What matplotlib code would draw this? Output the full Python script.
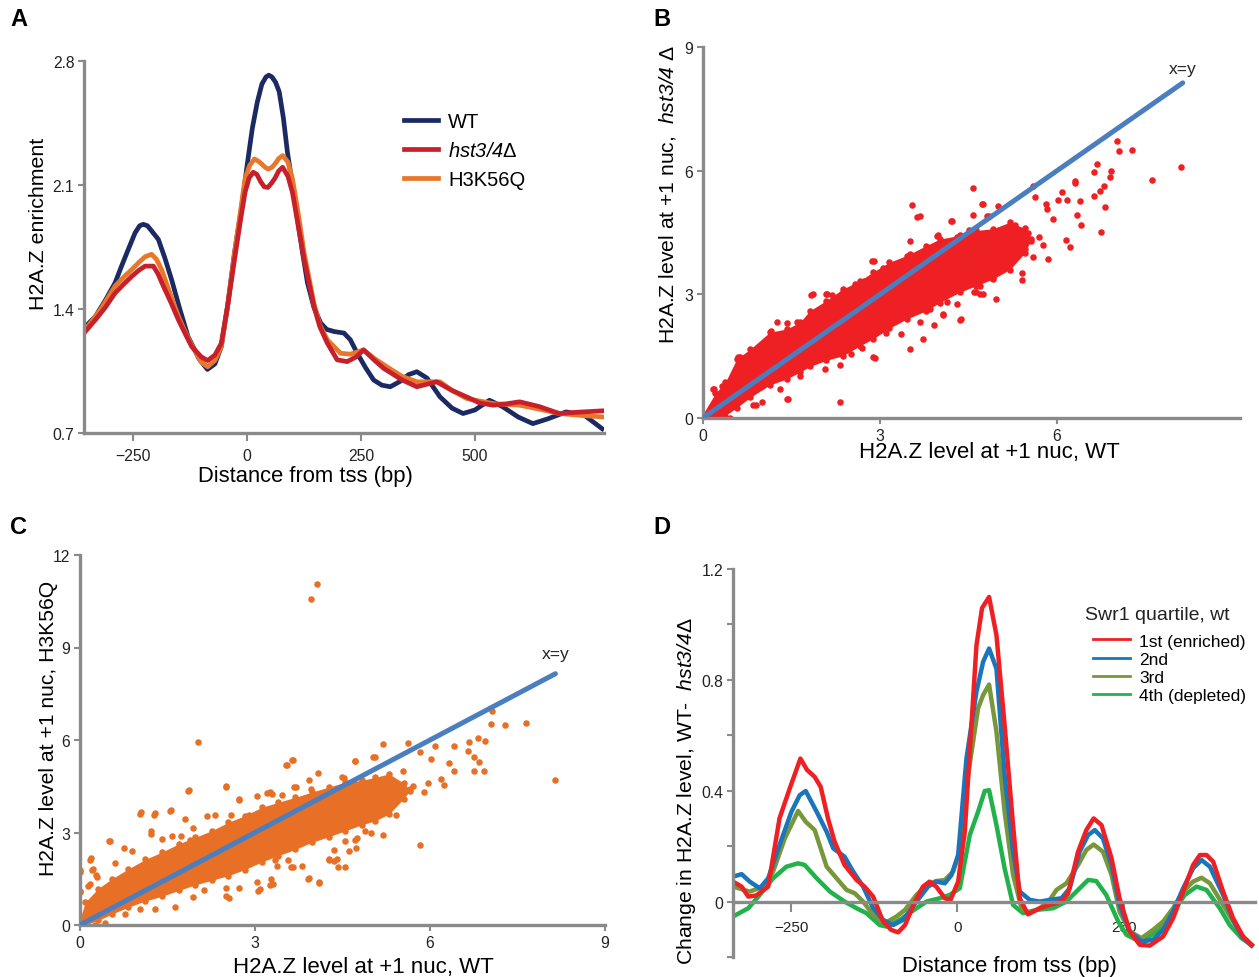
import matplotlib
matplotlib.use("Agg")
import matplotlib.pyplot as plt
from matplotlib.lines import Line2D

plt.rcParams['font.family'] = ['Liberation Sans', 'DejaVu Sans']
plt.rcParams['mathtext.fontset'] = 'custom'
plt.rcParams['mathtext.rm'] = 'Liberation Sans'
plt.rcParams['mathtext.it'] = 'Liberation Sans:italic'
plt.rcParams['mathtext.sf'] = 'Liberation Sans:italic'

# ---------------- Panel A data ----------------
a_wt_x = [-354, -332, -310, -289, -275, -260, -245, -235, -227, -218, -210, -194, -180, -165, -147, -129, -105, -86.5, -70, -56, -42, -27, -10, 1.5, 12, 23, 33, 42, 48, 55, 63, 71, 80, 89, 100, 111, 122, 133, 147, 162, 175, 191, 213, 227, 242, 260, 278, 296, 314.5, 335, 355, 372.7, 395, 423.5, 450, 474, 500, 532, 561, 595, 627, 660, 700, 740, 779]
a_wt_y = [1.30, 1.358, 1.45, 1.547, 1.64, 1.736, 1.83, 1.87, 1.878, 1.87, 1.845, 1.793, 1.69, 1.566, 1.40, 1.245, 1.12, 1.059, 1.09, 1.188, 1.42, 1.718, 2.0, 2.228, 2.42, 2.569, 2.67, 2.71, 2.72, 2.71, 2.68, 2.626, 2.48, 2.285, 2.10, 1.907, 1.72, 1.547, 1.41, 1.32, 1.285, 1.273, 1.264, 1.226, 1.15, 1.07, 0.999, 0.97, 0.961, 0.99, 1.03, 1.046, 1.01, 0.904, 0.84, 0.81, 0.83, 0.885, 0.848, 0.79, 0.753, 0.78, 0.819, 0.80, 0.724]
a_hst_x = [-354, -332, -310, -289, -270, -252, -236, -223, -205, -195, -183, -167, -150, -135, -121, -100, -86, -70, -56, -42, -27, -14, -4, 5, 13.9, 22, 30, 38, 46, 54, 62, 70, 78.5, 90, 100, 112, 125.5, 147, 160, 176.5, 198, 220, 240, 256, 280, 300, 340, 372.7, 416, 450, 481.7, 510, 539.7, 570, 598, 640, 685, 730, 779]
a_hst_y = [1.273, 1.339, 1.41, 1.49, 1.54, 1.585, 1.62, 1.642, 1.642, 1.60, 1.529, 1.44, 1.339, 1.26, 1.188, 1.13, 1.109, 1.14, 1.207, 1.42, 1.68, 1.90, 2.058, 2.14, 2.172, 2.16, 2.12, 2.09, 2.086, 2.11, 2.14, 2.18, 2.20, 2.15, 2.058, 1.88, 1.68, 1.415, 1.30, 1.207, 1.113, 1.103, 1.13, 1.169, 1.11, 1.065, 1.0, 0.961, 0.989, 0.94, 0.904, 0.87, 0.857, 0.865, 0.876, 0.85, 0.81, 0.818, 0.825]
a_h3k_x = [-354, -320, -289, -270, -252, -236, -223, -209, -198, -187, -170, -150, -135, -121, -100, -86, -70, -56, -42, -27, -14, -4, 6, 16.6, 25, 32, 40, 47, 55, 62, 70, 78.5, 90, 100, 112, 125.5, 147, 160, 176.5, 205.5, 227, 256, 280, 307, 340, 372.7, 423.5, 450, 481.7, 539.7, 598, 640, 685, 730, 779]
a_h3k_y = [1.282, 1.40, 1.529, 1.58, 1.623, 1.665, 1.695, 1.709, 1.68, 1.623, 1.50, 1.358, 1.27, 1.198, 1.10, 1.074, 1.11, 1.188, 1.42, 1.718, 1.95, 2.134, 2.21, 2.247, 2.235, 2.22, 2.20, 2.19, 2.20, 2.22, 2.25, 2.266, 2.23, 2.134, 1.95, 1.718, 1.434, 1.31, 1.226, 1.15, 1.145, 1.169, 1.12, 1.074, 1.02, 0.989, 0.989, 0.94, 0.895, 0.866, 0.857, 0.835, 0.81, 0.80, 0.791]
a_xticks = [-250, 0, 250, 500]
a_yticks = [0.7, 1.4, 2.1, 2.8]
a_labels = ['WT', r'$\mathsf{hst3/4}$Δ', 'H3K56Q']

# ---------------- Panel B data ----------------
b_env_x = [0.0, 0.21, 0.38, 0.57, 0.80, 1.13, 1.42, 1.64, 1.81, 2.09, 2.37, 2.66, 2.88, 3.16, 3.45, 3.78, 4.01, 4.35, 4.63, 4.91, 5.2, 5.45, 5.55]
b_env_lo = [0.0, 0.0, 0.06, 0.25, 0.5, 0.8, 0.95, 1.11, 1.25, 1.4, 1.51, 1.75, 1.92, 2.18, 2.4, 2.6, 2.8, 3.05, 3.21, 3.37, 3.6, 4.0, 4.3]
b_env_hi = [0.1, 0.6, 0.87, 1.43, 1.67, 2.08, 2.16, 2.32, 2.6, 2.85, 3.13, 3.33, 3.54, 3.78, 3.94, 4.18, 4.34, 4.43, 4.55, 4.59, 4.75, 4.6, 4.35]
b_pts_x = [7.02, 7.05, 7.27, 8.1, 7.61, 6.67, 6.63, 6.92, 6.9, 6.8, 6.72, 6.63, 6.81, 6.74, 6.39, 6.33, 6.4, 6.3, 6.31, 6.17, 6.08, 6.01, 6.15, 6.22, 5.93, 5.83, 5.82, 5.62, 5.59, 5.85, 5.6, 5.4, 5.4, 4.57, 3.55, 3.67, 4.75, 4.57, 5.0, 4.22, 3.51, 3.97, 2.9, 1.87, 2.1, 1.25, 1.43, 0.63, 2.91, 2.33, 0.45, 4.38, 3.72, 3.91, 4.07, 4.7, 4.63, 1.43, 0.9, 0.17, 3.5, 2.62, 2.43, 4.97, 5.28, 5.33, 5.17, 5.53, 5.77, 5.1, 5.25, 5.45, 4.85, 4.9, 5.05,
           1.6, 1.15, 1.15, 0.85, 0.59, 0.8, 0.32, 0.19, 0.85, 1.44, 1.64, 2.06, 2.33, 2.88, 1.83, 2.09, 2.19, 2.37, 2.58, 2.73, 2.87, 3.05, 3.19, 3.32, 3.63, 3.5, 3.35, 3.68, 3.85, 4.07, 4.35, 4.14, 4.3, 4.6, 4.7, 4.74, 4.74, 4.91, 4.2, 4.51, 4.73, 4.81, 4.03, 4.3, 3.98, 1.0, 1.3, 2.5, 2.7, 3.1, 5.0, 5.3, 5.5, 5.7]
b_pts_y = [6.73, 6.47, 6.49, 6.1, 5.78, 6.17, 5.97, 5.98, 5.84, 5.64, 5.5, 5.38, 5.11, 4.51, 5.26, 4.92, 4.69, 5.76, 5.71, 5.3, 5.48, 5.28, 4.31, 4.15, 4.83, 5.08, 5.18, 5.36, 5.64, 3.86, 3.9, 3.52, 3.35, 5.58, 5.17, 4.89, 5.18, 4.92, 5.14, 4.77, 4.29, 4.41, 3.82, 3.0, 3.02, 2.34, 2.31, 1.48, 1.46, 0.4, 0.0, 2.41, 1.91, 2.26, 2.49, 3.02, 3.06, 0.47, 0.32, 0.71, 1.67, 3.23, 3.07, 2.89, 4.67, 4.47, 4.35, 4.35, 4.19, 3.7, 3.9, 4.1, 4.9, 3.4, 3.6,
           2.32, 2.11, 1.91, 1.63, 1.47, 1.35, 0.78, 0.70, 0.31, 0.47, 1.03, 1.19, 1.29, 1.47, 2.99, 3.02, 2.99, 3.05, 3.25, 3.33, 3.82, 3.63, 3.61, 3.73, 4.87, 3.98, 2.04, 2.32, 2.65, 2.52, 2.38, 2.81, 2.77, 3.05, 3.21, 3.57, 3.01, 3.41, 4.77, 4.55, 5.19, 4.89, 4.2, 4.38, 4.43, 0.4, 0.7, 1.55, 1.7, 2.05, 4.5, 4.3, 4.5, 4.4]
b_ticks = [0, 3, 6]
b_yticks = [0, 3, 6, 9]

# ---------------- Panel C data ----------------
c_env_x = [0.0, 0.09, 0.31, 0.54, 0.83, 1.12, 1.4, 1.69, 1.97, 2.26, 2.54, 2.83, 3.12, 3.4, 3.69, 3.97, 4.26, 4.54, 4.83, 5.06, 5.3, 5.55, 5.65]
c_env_lo = [0.0, 0.0, 0.15, 0.35, 0.58, 0.78, 0.93, 1.12, 1.3, 1.45, 1.6, 1.8, 2.05, 2.25, 2.45, 2.68, 2.86, 3.05, 3.25, 3.38, 3.6, 4.1, 4.35]
c_env_hi = [0.2, 0.74, 1.18, 1.49, 1.82, 2.13, 2.36, 2.63, 2.84, 3.06, 3.33, 3.55, 3.82, 3.98, 4.14, 4.31, 4.47, 4.63, 4.69, 4.79, 4.9, 4.6, 4.4]
c_pts_x = [3.96, 4.07, 2.02, 3.54, 3.65, 2.51, 1.87, 1.56, 1.04, 1.29, 0.51, 0.18, 0.0, 0.22, 0.28, 0.0, 0.17, 1.22, 2.73, 3.26, 3.7, 7.06, 7.04, 7.28, 7.65, 8.14, 6.67, 6.82, 6.95, 6.75, 6.84, 6.93, 6.75, 6.65, 6.41, 6.33, 6.41, 6.24, 6.19, 6.09, 6.02, 5.83, 5.63, 5.97, 5.82, 5.19, 5.05, 4.72, 4.53, 5.19, 5.41, 4.99, 4.55, 4.4, 4.27, 4.1, 3.92, 3.65, 3.31, 3.05, 2.51, 4.74, 4.61, 5.53, 5.7, 5.9,
           0.0, 0.0, 0.17, 0.21, 0.14, 0.29, 0.5, 0.6, 0.75, 0.89, 1.03, 1.27, 1.22, 1.41, 1.55, 1.57, 1.73, 1.8, 1.89, 1.85, 1.94, 2.18, 2.32, 2.5, 2.59, 2.73, 2.89, 3.03, 3.2, 3.29, 3.46, 3.53, 3.63, 3.67, 3.96, 3.92, 4.08, 4.49, 4.72, 5.03, 4.89, 4.72, 4.73, 4.55, 4.36, 4.35, 4.43, 4.26, 4.09, 3.9, 3.62, 3.8, 3.57, 3.34, 3.28, 3.09, 3.03, 3.25, 3.37, 2.73, 2.55, 2.5, 1.94, 2.13, 1.63, 1.29, 1.6, 1.03, 0.77, 0.43, 0.26]
c_pts_y = [10.57, 11.05, 5.92, 5.19, 5.35, 4.52, 4.39, 3.74, 3.66, 3.63, 2.72, 2.16, 1.77, 1.83, 1.61, 1.11, 1.32, 3.04, 4.09, 4.3, 4.46, 6.95, 6.51, 6.48, 6.56, 4.69, 5.95, 6.08, 5.98, 5.46, 5.3, 5.0, 5.0, 5.65, 5.82, 5.25, 4.98, 4.53, 4.74, 5.82, 5.39, 5.62, 5.89, 4.62, 2.59, 5.86, 5.46, 5.32, 4.78, 2.91, 3.58, 2.99, 1.88, 2.13, 2.13, 1.38, 1.52, 1.88, 1.34, 1.11, 0.95, 2.83, 2.4, 4.98, 4.5, 4.3,
           1.73, 1.06, 2.12, 1.78, 1.28, 1.55, 2.71, 2.0, 2.5, 2.41, 3.6, 3.57, 2.96, 2.8, 3.69, 2.9, 2.9, 3.43, 2.76, 4.36, 3.15, 3.52, 3.56, 4.48, 3.57, 4.06, 3.57, 4.2, 4.28, 4.26, 4.23, 5.18, 5.34, 4.47, 4.42, 4.71, 4.94, 4.8, 5.31, 5.45, 3.06, 2.77, 2.5, 2.74, 2.43, 2.09, 1.88, 2.11, 1.37, 1.48, 1.88, 1.9, 2.11, 2.11, 1.49, 1.17, 1.39, 1.3, 1.92, 1.19, 0.86, 1.19, 0.92, 1.14, 0.6, 0.52, 1.22, 0.52, 0.35, 0.08, 0.0]
c_ticks = [0, 3, 6, 9]
c_yticks = [0, 3, 6, 9, 12]

# ---------------- Panel D data ----------------
d_q1_x = [-338, -325, -315, -303, -285, -268, -252.6, -236.5, -226.5, -215, -206, -195, -185, -170, -152, -140, -127, -112, -100, -89.4, -79, -64, -52, -42, -32, -19, -10.5, 1, 11, 21, 28.6, 37, 47.6, 58.7, 71, 83.7, 93.8, 106, 124, 139, 156.6, 166.6, 181.6, 194, 205, 216.9, 232, 244, 259.5, 274.5, 289.6, 309.6, 324.7, 339.8, 354.8, 365, 375, 385, 400, 415, 430, 442.8]
d_q1_y = [0.072, 0.054, 0.018, 0.022, 0.054, 0.3, 0.408, 0.516, 0.475, 0.45, 0.414, 0.3, 0.216, 0.132, 0.078, 0.054, 0.018, -0.072, -0.102, -0.111, -0.085, 0.0, 0.054, 0.072, 0.054, 0.012, 0.006, 0.072, 0.252, 0.636, 0.925, 1.059, 1.099, 0.961, 0.636, 0.276, 0.012, -0.046, -0.024, -0.012, 0.0, 0.03, 0.18, 0.258, 0.3, 0.276, 0.156, 0.012, -0.108, -0.156, -0.159, -0.126, -0.06, 0.036, 0.132, 0.168, 0.168, 0.144, 0.036, -0.06, -0.126, -0.156]
d_q2_x = [-338, -325, -312.8, -297.7, -285, -268, -250, -237.5, -228.5, -212, -197, -187, -170, -157, -142, -127, -112, -97, -82, -61.7, -44.3, -32, -19, -9, 1, 13.5, 28.6, 38.6, 47.6, 58.7, 71, 83.7, 93.8, 108.9, 124, 139, 156.6, 169, 184, 196.7, 206.8, 219, 232, 244, 259.5, 277, 294.6, 309.6, 324.7, 339.8, 354.8, 367.5, 380, 400, 415, 430, 442.8]
d_q2_y = [0.09, 0.099, 0.072, 0.048, 0.084, 0.204, 0.324, 0.384, 0.399, 0.324, 0.252, 0.192, 0.162, 0.108, 0.054, -0.024, -0.066, -0.085, -0.066, 0.0, 0.054, 0.072, 0.066, 0.096, 0.168, 0.516, 0.757, 0.865, 0.913, 0.84, 0.456, 0.18, 0.036, 0.006, 0.0, 0.006, 0.012, 0.048, 0.18, 0.24, 0.258, 0.228, 0.132, -0.012, -0.108, -0.144, -0.138, -0.102, -0.036, 0.048, 0.12, 0.15, 0.126, 0.024, -0.066, -0.132, -0.159]
d_q3_x = [-338, -312.8, -292.8, -277.7, -260, -240, -228.5, -215, -197, -182, -167, -154.7, -142, -127, -109.5, -91.9, -79, -61.7, -46.7, -32, -19, -6.6, 3.5, 16, 31, 38.6, 47.6, 58.7, 71, 83.7, 96.4, 108.9, 124, 139, 149, 164, 181.6, 194, 205, 219, 232, 244, 259.5, 277, 294.6, 309.6, 324.7, 339.8, 354.8, 367.5, 380, 400, 415, 430, 442.8]
d_q3_y = [0.054, 0.036, 0.054, 0.108, 0.228, 0.327, 0.288, 0.258, 0.126, 0.084, 0.042, 0.03, 0.0, -0.048, -0.078, -0.054, -0.03, 0.024, 0.06, 0.074, 0.078, 0.108, 0.18, 0.456, 0.697, 0.745, 0.783, 0.613, 0.324, 0.096, -0.024, -0.042, -0.024, 0.006, 0.042, 0.066, 0.132, 0.186, 0.206, 0.18, 0.096, -0.036, -0.108, -0.132, -0.102, -0.072, -0.024, 0.036, 0.072, 0.086, 0.066, -0.012, -0.072, -0.126, -0.156]
d_q4_x = [-338, -315, -297.7, -277.7, -257.5, -240, -230, -212, -192, -170, -152, -137, -117, -107, -87, -69, -46.7, -26.6, -11.6, 3.5, 18.5, 31, 41, 47.6, 58.7, 71, 83.7, 98.8, 119, 144, 164, 179, 196.7, 209, 224, 242, 254.5, 269.6, 284.6, 304.7, 324.7, 342.3, 360, 375, 395, 410, 427.7, 442.8]
d_q4_y = [-0.054, -0.024, 0.024, 0.084, 0.126, 0.138, 0.132, 0.084, 0.036, 0.0, -0.024, -0.042, -0.085, -0.09, -0.066, -0.036, 0.0, 0.012, 0.024, 0.048, 0.24, 0.324, 0.399, 0.402, 0.276, 0.12, -0.012, -0.042, -0.03, -0.024, 0.0, 0.036, 0.078, 0.074, 0.024, -0.072, -0.12, -0.138, -0.132, -0.102, -0.036, 0.024, 0.054, 0.042, -0.024, -0.085, -0.132, -0.156]
d_labels = ['1st (enriched)', '2nd', '3rd', '4th (depleted)']
d_title = 'Swr1 quartile, wt'
d_xticks = [-250, 0, 250]
d_yticks = [0, 0.4, 0.8, 1.2]
d_yminor = [-0.2, 0.2, 0.6, 1.0]

SPINE = '#8a8a8a'
TICKC = '#222222'
D_COLORS = ['#ee2024', '#1a75bb', '#78973a', '#21b24b']

fig = plt.figure(figsize=(12.59, 9.78), dpi=100)
W, H = 1259.0, 978.0


def axes_px(l, t, r, b):
    return fig.add_axes([l / W, 1 - b / H, (r - l) / W, (b - t) / H])


def style(ax):
    for s in ['top', 'right']:
        ax.spines[s].set_visible(False)
    for s in ['left', 'bottom']:
        ax.spines[s].set_color(SPINE)
        ax.spines[s].set_linewidth(2.4)
    ax.tick_params(direction='out', length=4, width=1.5, color=SPINE,
                   labelsize=11.3, labelcolor=TICKC, pad=3)


# ---- A ----
axA = axes_px(84, 62, 604, 434)
style(axA)
axA.plot(a_wt_x, a_wt_y, color='#1c2a63', lw=3.4, label=a_labels[0], solid_joinstyle='round')
axA.plot(a_h3k_x, a_h3k_y, color='#e8772a', lw=3.4, solid_joinstyle='round')
axA.plot(a_hst_x, a_hst_y, color='#c8202a', lw=3.4, solid_joinstyle='round')
axA.plot([], [], color='#c8202a', lw=3.4, label=a_labels[1])
axA.plot([], [], color='#e8772a', lw=3.4, label=a_labels[2])
axA.set_xlim(-357, 783)
axA.set_ylim(0.7, 2.8)
axA.set_xticks(a_xticks)
axA.set_yticks(a_yticks)
axA.set_yticklabels(['0.7', '1.4', '2.1', '2.8'])
axA.tick_params(axis='x', length=6, pad=5)
axA.set_ylabel('H2A.Z enrichment', fontsize=15.4)
axA.set_xlabel('Distance from tss (bp)', fontsize=15.8)
axA.yaxis.set_label_coords(-0.07, 0.565)
axA.xaxis.set_label_coords(0.425, -0.086)
axA.legend(loc='upper left', bbox_to_anchor=(0.615, 0.862), frameon=False,
           fontsize=14.5, handlelength=1.7, handletextpad=0.5, labelspacing=0.49,
           borderaxespad=0, borderpad=0)

# ---- B ----
axB = axes_px(703, 48, 1240, 419)
style(axB)
axB.fill_between(b_env_x, b_env_lo, b_env_hi, color='#ee2024', lw=0, zorder=2)
axB.scatter(b_env_x + b_env_x, b_env_lo + b_env_hi, s=22, color='#ee2024', lw=0, zorder=2)
axB.scatter(b_pts_x, b_pts_y, s=22, color='#ee2024', lw=0, zorder=2)
axB.plot([0, 8.13], [0, 8.13], color='#4a7ebf', lw=3.6, zorder=3, solid_capstyle='round')
axB.text(8.13, 8.3, 'x=y', fontsize=12.5, ha='center', va='bottom', color='#222222')
axB.set_xlim(0, 9.1)
axB.set_ylim(0, 9)
axB.set_xticks(b_ticks)
axB.set_yticks(b_yticks)
axB.set_xlabel('H2A.Z level at +1 nuc, WT', fontsize=16)
axB.set_ylabel(r'H2A.Z level at +1 nuc,  $\mathsf{hst3/4}$ Δ', fontsize=15.2)
axB.yaxis.set_label_coords(-0.047, 0.604)
axB.xaxis.set_label_coords(0.533, -0.062)

# ---- C ----
axC = axes_px(80, 556, 605, 926)
style(axC)
axC.fill_between(c_env_x, c_env_lo, c_env_hi, color='#e87026', lw=0, zorder=2)
axC.scatter(c_env_x + c_env_x, c_env_lo + c_env_hi, s=22, color='#e87026', lw=0, zorder=2)
axC.scatter(c_pts_x, c_pts_y, s=22, color='#e87026', lw=0, zorder=2)
axC.plot([0, 8.15], [0, 8.15], color='#4a7ebf', lw=3.6, zorder=3, solid_capstyle='round')
axC.text(8.15, 8.55, 'x=y', fontsize=12.5, ha='center', va='bottom', color='#222222')
axC.set_xlim(0, 9)
axC.set_ylim(0, 12)
axC.set_xticks(c_ticks)
axC.set_yticks(c_yticks)
axC.set_xlabel('H2A.Z level at +1 nuc, WT', fontsize=16)
axC.set_ylabel('H2A.Z level at +1 nuc, H3K56Q', fontsize=15.2)
axC.yaxis.set_label_coords(-0.042, 0.535)
axC.xaxis.set_label_coords(0.539, -0.083)

# ---- D ----
axD = axes_px(733, 570, 1255, 958)
style(axD)
axD.spines['bottom'].set_position(('data', 0))
axD.plot(d_q4_x, d_q4_y, color=D_COLORS[3], lw=3.2, solid_joinstyle='round')
axD.plot(d_q3_x, d_q3_y, color=D_COLORS[2], lw=3.2, solid_joinstyle='round')
axD.plot(d_q2_x, d_q2_y, color=D_COLORS[1], lw=3.2, solid_joinstyle='round')
axD.plot(d_q1_x, d_q1_y, color=D_COLORS[0], lw=3.2, solid_joinstyle='round')
axD.set_xlim(-338, 448)
axD.set_ylim(-0.2, 1.2)
axD.set_xticks(d_xticks)
axD.set_yticks(d_yticks)
axD.set_yticklabels(['0', '0.4', '0.8', '1.2'])
axD.set_yticks(d_yminor, minor=True)
axD.tick_params(axis='y', which='minor', direction='out', length=4, width=1.5, color=SPINE)
axD.tick_params(axis='x', length=7, pad=6, labelsize=11)
axD.set_xlabel('Distance from tss (bp)', fontsize=15.8)
axD.set_ylabel(r'Change in H2A.Z level, WT-  $\mathsf{hst3/4}$Δ', fontsize=15.2)
axD.yaxis.set_label_coords(-0.067, 0.43)
axD.xaxis.set_label_coords(0.529, 0.006)
handles = [Line2D([], [], color=c, lw=2.0) for c in D_COLORS]
axD.legend(handles, d_labels, loc='upper left', bbox_to_anchor=(0.69, 0.834), frameon=False,
           fontsize=12.5, handlelength=2.1,
           handletextpad=0.55, labelspacing=0.17, borderaxespad=0, borderpad=0)
axD.text(0.674, 0.882, d_title, transform=axD.transAxes, fontsize=14, ha='left', va='center',
         color='#222222')

# panel letters
for txt, x, y in [('A', 10, 8), ('B', 653, 8), ('C', 10, 516), ('D', 653, 516)]:
    fig.text(x / W, 1 - y / H, txt, fontsize=17, fontweight='bold', va='top', ha='left')

fig.savefig('out.png', dpi=100)
